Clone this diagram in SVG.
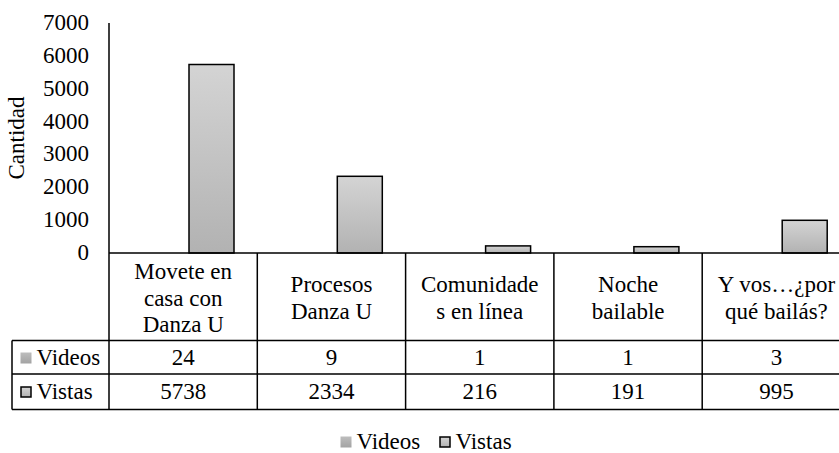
<svg xmlns="http://www.w3.org/2000/svg" width="839" height="453" viewBox="0 0 839 453">
<defs>
<linearGradient id="gV" x1="0" y1="0" x2="0" y2="1"><stop offset="0" stop-color="#d4d4d4"/><stop offset="1" stop-color="#b2b2b2"/></linearGradient>
<linearGradient id="gD" x1="0" y1="0" x2="0" y2="1"><stop offset="0" stop-color="#bdbdbd"/><stop offset="1" stop-color="#a3a3a3"/></linearGradient>
</defs>
<rect width="839" height="453" fill="#fff"/>
<g id="axis" font-family="Liberation Serif" font-size="23" text-anchor="end">
<text x="89" y="30">7000</text>
<text x="89" y="62.9">6000</text>
<text x="89" y="95.7">5000</text>
<text x="89" y="128.6">4000</text>
<text x="89" y="161.4">3000</text>
<text x="89" y="194.3">2000</text>
<text x="89" y="227.1">1000</text>
<text x="89" y="260">0</text>
<text text-anchor="middle" transform="translate(24,138) rotate(-90)">Cantidad</text>
</g>
<g id="bars" fill="url(#gV)" stroke="#000" stroke-width="1.5">
<rect x="189" y="64.5" width="45" height="188.5"/>
<rect x="337.3" y="176.3" width="45" height="76.7"/>
<rect x="485.6" y="245.9" width="45" height="7.1"/>
<rect x="633.9" y="246.7" width="45" height="6.3"/>
<rect x="782.2" y="220.3" width="45" height="32.7"/>
</g>
<g id="table-lines">
<path stroke="#000" stroke-width="1.5" fill="none" d="M109,23V409.5M109,253H851M12,340.5H851M12,374H851M12,409.5H851M12,340.5V409.5M257.3,253V409.5M405.6,253V409.5M553.9,253V409.5M702.2,253V409.5"/>
</g>
<g id="headers" font-family="Liberation Serif" font-size="23" text-anchor="middle">
<text x="183.2" y="279">Movete en</text>
<text x="183.2" y="305.5">casa con</text>
<text x="183.2" y="332">Danza U</text>
<text x="331.5" y="292.3">Procesos</text>
<text x="331.5" y="319">Danza U</text>
<text x="479.8" y="292.3">Comunidade</text>
<text x="479.8" y="319">s en línea</text>
<text x="628.1" y="292.3">Noche</text>
<text x="628.1" y="319">bailable</text>
<text x="776.4" y="292.3">Y vos…¿por</text>
<text x="776.4" y="319">qué bailás?</text>
</g>
<g id="row-videos" font-family="Liberation Serif" font-size="23" text-anchor="middle">
<rect x="20.5" y="352.5" width="11" height="11" fill="url(#gD)"/>
<text x="36.5" y="365" text-anchor="start">Videos</text>
<text x="183.2" y="365">24</text>
<text x="331.5" y="365">9</text>
<text x="479.8" y="365">1</text>
<text x="628.1" y="365">1</text>
<text x="776.4" y="365">3</text>
</g>
<g id="row-vistas" font-family="Liberation Serif" font-size="23" text-anchor="middle">
<rect x="21" y="387" width="10" height="10" fill="url(#gV)" stroke="#000" stroke-width="1.5"/>
<text x="36.5" y="398.5" text-anchor="start">Vistas</text>
<text x="183.2" y="398.5">5738</text>
<text x="331.5" y="398.5">2334</text>
<text x="479.8" y="398.5">216</text>
<text x="628.1" y="398.5">191</text>
<text x="776.4" y="398.5">995</text>
</g>
<g id="legend" font-family="Liberation Serif" font-size="23">
<rect x="340.5" y="436.5" width="11" height="11" fill="url(#gD)"/>
<text x="356.5" y="448.5">Videos</text>
<rect x="440" y="437" width="10" height="10" fill="url(#gV)" stroke="#000" stroke-width="1.5"/>
<text x="455.5" y="448.5">Vistas</text>
</g>
</svg>
